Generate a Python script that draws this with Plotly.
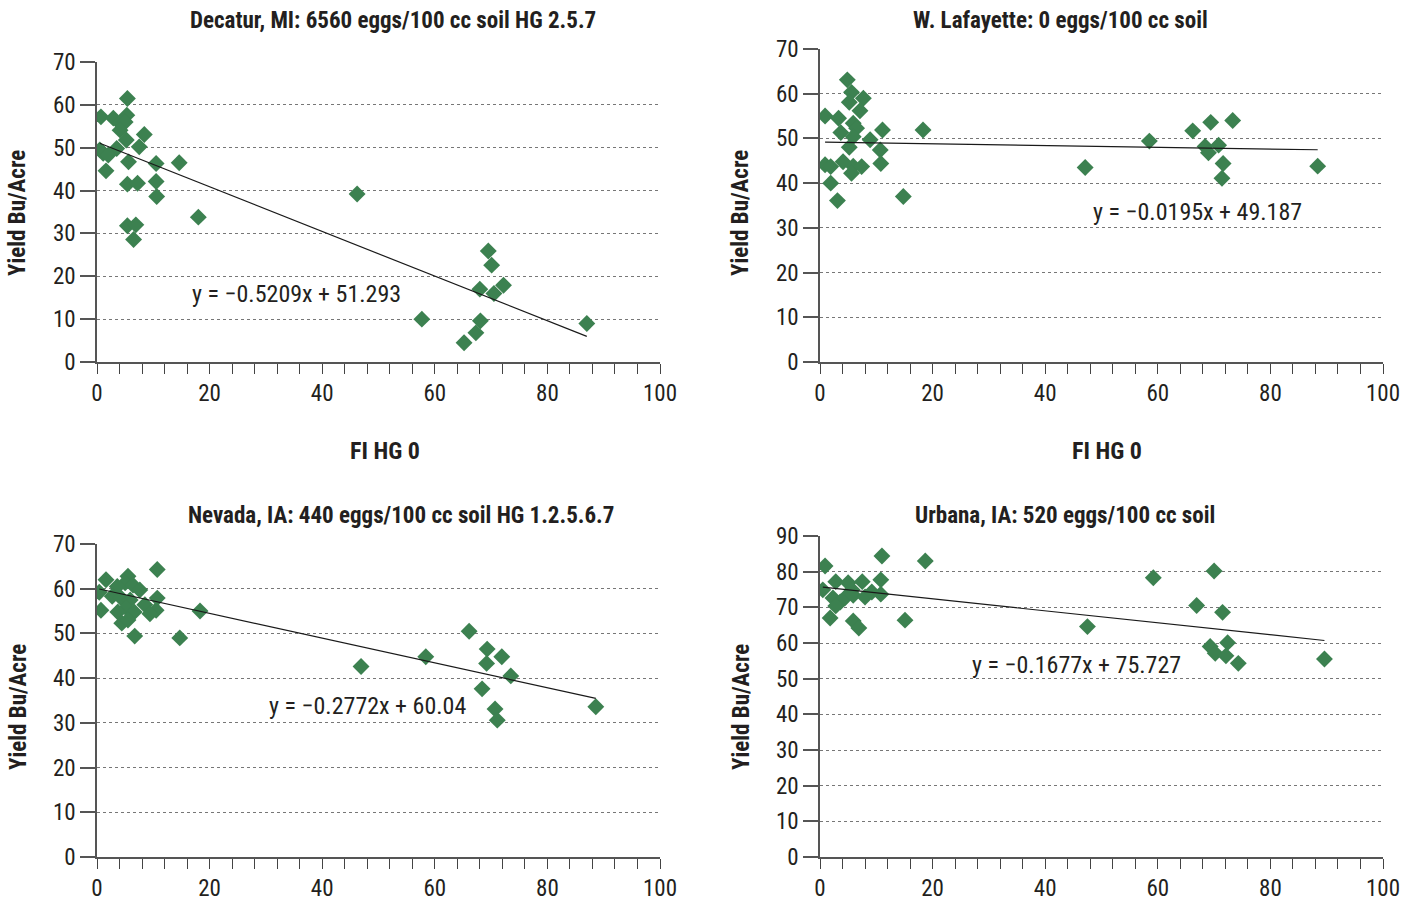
import plotly.graph_objects as go

# ---------------- data ----------------
titles = ["Decatur, MI: 6560 eggs/100 cc soil HG 2.5.7",
          "W. Lafayette: 0 eggs/100 cc soil",
          "Nevada, IA: 440 eggs/100 cc soil HG 1.2.5.6.7",
          "Urbana, IA: 520 eggs/100 cc soil"]
x_title = "FI HG 0"
y_title = "Yield Bu/Acre"

p1_x = [0.7, 2.9, 5.4, 5.3, 4.1, 5.0, 4.1, 8.4, 5.2, 7.5, 3.5, 0.5, 1.1, 2.0, 5.6, 10.5, 14.6, 1.6,
        5.4, 7.2, 10.5, 10.6, 18.0, 5.4, 6.9, 6.5, 46.2, 69.5, 70.1, 68.0, 70.5, 72.2, 57.7, 68.1,
        67.3, 65.2, 87.0]
p1_y = [57.2, 56.9, 61.5, 57.6, 55.7, 56.0, 54.1, 53.1, 51.8, 50.2, 49.8, 49.5, 48.7, 48.3, 46.7, 46.3, 46.5, 44.6,
        41.5, 41.7, 42.1, 38.6, 33.8, 31.8, 32.0, 28.6, 39.2, 25.9, 22.6, 17.0, 16.0, 17.9, 10.0, 9.6,
        6.8, 4.5, 9.0]

p2_x = [4.85, 5.6, 5.2, 7.7, 7.1, 0.9, 3.3, 5.9, 6.5, 3.7, 11.1, 5.9, 8.9, 5.2, 10.7, 10.8, 0.9, 1.9,
        4.1, 5.9, 7.4, 5.6, 1.9, 3.1, 14.8, 18.3, 47.1, 58.5, 66.2, 69.4, 73.3, 68.4, 69.0, 70.8,
        71.6, 71.4, 88.4]
p2_y = [63.1, 60.3, 58.1, 59.0, 56.2, 55.0, 54.5, 53.4, 52.3, 51.3, 51.9, 50.4, 49.7, 48.0, 47.4, 44.4, 44.1, 43.7,
        44.8, 43.8, 43.7, 42.2, 40.0, 36.1, 37.0, 51.9, 43.5, 49.4, 51.7, 53.6, 54.0, 48.2, 46.8, 48.5,
        44.4, 41.1, 43.8]

p3_x = [10.7, 1.6, 5.5, 5.0, 6.4, 7.6, 0.4, 3.6, 2.7, 4.3, 10.7, 5.9, 8.5, 5.2, 0.7, 3.7, 6.6, 10.5,
        9.4, 4.4, 5.5, 6.7, 14.7, 18.3, 46.9, 58.4, 66.1, 69.3, 71.9, 69.2, 73.5, 68.4, 70.7, 71.1, 88.6]
p3_y = [64.3, 62.0, 62.8, 61.3, 60.8, 59.7, 59.2, 60.5, 58.3, 57.9, 57.9, 57.5, 56.4, 55.7, 55.2, 54.8, 54.8, 55.2,
        54.4, 52.3, 53.0, 49.4, 49.0, 55.0, 42.6, 44.8, 50.5, 46.5, 44.8, 43.3, 40.5, 37.6, 33.1, 30.6, 33.6]

p4_x = [0.9, 11.0, 18.7, 0.5, 2.8, 5.0, 5.7, 7.5, 10.8, 2.3, 3.6, 4.4, 5.9, 8.0, 9.2, 10.8, 2.8, 1.8,
        5.9, 6.9, 15.1, 47.5, 59.2, 70.0, 66.9, 71.5, 69.3, 70.2, 72.4, 72.1, 74.3, 89.6]
p4_y = [81.6, 84.4, 83.0, 74.9, 77.2, 76.9, 74.9, 77.2, 77.7, 72.6, 71.5, 72.6, 73.4, 72.9, 74.3, 73.7, 70.4, 67.0,
        66.2, 64.2, 66.4, 64.6, 78.3, 80.2, 70.5, 68.6, 59.0, 57.1, 60.1, 56.4, 54.3, 55.5]

slopes = [-0.5209, -0.0195, -0.2772, -0.1677]
intercepts = [51.293, 49.187, 60.04, 75.727]
equations = ["y = \u22120.5209x + 51.293", "y = \u22120.0195x + 49.187",
             "y = \u22120.2772x + 60.04", "y = \u22120.1677x + 75.727"]
y_max = [70, 70, 70, 90]
x_ticks = [0, 20, 40, 60, 80, 100]

# ---------------- layout geometry ----------------
W, H = 1418, 902
def px_x(p): return p / W
def px_y(p): return 1 - p / H

panels = [
    dict(x0=97, x1=660, ytop=62, ybot=362),
    dict(x0=820, x1=1383, ytop=49, ybot=362),
    dict(x0=97, x1=660, ytop=544, ybot=857),
    dict(x0=820, x1=1383, ytop=536, ybot=857),
]
eq_pos = [(35.5, 15.9), (67.1, 33.5), (48.0, 33.8), (45.6, 53.8)]
title_pos = [(393, 20), (1060, 20), (401, 515), (1065, 515)]
ytitle_pos = [(18, 213), (741, 213), (18, 707), (741, 707)]
xtitle_pos = [(385, 451), (1107, 451)]

FONT = "Roboto Condensed, Liberation Sans Narrow, Arial Narrow, Liberation Sans, sans-serif"
TXT = "#231f20"
GREEN = "#3c8150"

xs = [p1_x, p2_x, p3_x, p4_x]
ys = [p1_y, p2_y, p3_y, p4_y]

fig = go.Figure()
annotations = []
for i in range(4):
    sfx = "" if i == 0 else str(i + 1)
    xa, ya = "x" + sfx, "y" + sfx
    fig.add_trace(go.Scatter(x=xs[i], y=ys[i], mode="markers", xaxis=xa, yaxis=ya,
                             marker=dict(symbol="diamond", size=13, color=GREEN, line=dict(width=0)),
                             showlegend=False, hoverinfo="x+y"))
    xmin, xmax = min(xs[i]), max(xs[i])
    fig.add_trace(go.Scatter(x=[xmin, xmax], y=[slopes[i] * xmin + intercepts[i], slopes[i] * xmax + intercepts[i]],
                             mode="lines", xaxis=xa, yaxis=ya, line=dict(color="#1a1a1a", width=1.2),
                             showlegend=False, hoverinfo="skip"))
    p = panels[i]
    tick_font = dict(family=FONT, size=23, color=TXT)
    fig.layout["xaxis" + sfx] = dict(
        domain=[px_x(p["x0"]), px_x(p["x1"])], anchor=ya, range=[0, 100], automargin=False,
        tickvals=x_ticks, ticks="outside", ticklen=10, tickwidth=1, tickcolor="#444",
        minor=dict(dtick=4, tick0=0, ticks="outside", ticklen=10, tickwidth=1, tickcolor="#444"),
        showline=True, linecolor="#555", linewidth=1.5, showgrid=False, zeroline=False,
        tickfont=tick_font, fixedrange=True)
    fig.layout["yaxis" + sfx] = dict(
        domain=[px_y(p["ybot"]), px_y(p["ytop"])], anchor=xa, range=[0, y_max[i]], automargin=False,
        dtick=10, ticks="outside", ticklen=15, tickwidth=1.5, tickcolor="#555",
        showline=True, linecolor="#555", linewidth=1.5,
        showgrid=True, gridcolor="#777", griddash="dot", gridwidth=1, zeroline=False,
        tickfont=tick_font, fixedrange=True)
    annotations.append(dict(x=eq_pos[i][0], y=eq_pos[i][1], xref=xa, yref=ya, text=equations[i],
                            showarrow=False, font=dict(family=FONT, size=24, color=TXT)))
    annotations.append(dict(x=px_x(title_pos[i][0]), y=px_y(title_pos[i][1]), xref="paper", yref="paper",
                            text="<b>" + titles[i] + "</b>", showarrow=False,
                            font=dict(family=FONT, size=23, color=TXT), xanchor="center", yanchor="middle"))
    annotations.append(dict(x=px_x(ytitle_pos[i][0]), y=px_y(ytitle_pos[i][1]), xref="paper", yref="paper",
                            text="<b>" + y_title + "</b>", showarrow=False, textangle=-90,
                            font=dict(family=FONT, size=23, color=TXT), xanchor="center", yanchor="middle"))
for (tx, ty) in xtitle_pos:
    annotations.append(dict(x=px_x(tx), y=px_y(ty), xref="paper", yref="paper",
                            text="<b>" + x_title + "</b>", showarrow=False,
                            font=dict(family=FONT, size=24, color=TXT), xanchor="center", yanchor="middle"))

fig.update_layout(width=W, height=H, margin=dict(l=0, r=0, t=0, b=0),
                  paper_bgcolor="white", plot_bgcolor="white",
                  annotations=annotations, showlegend=False)

fig.write_html("out.html", config={"displayModeBar": False})
